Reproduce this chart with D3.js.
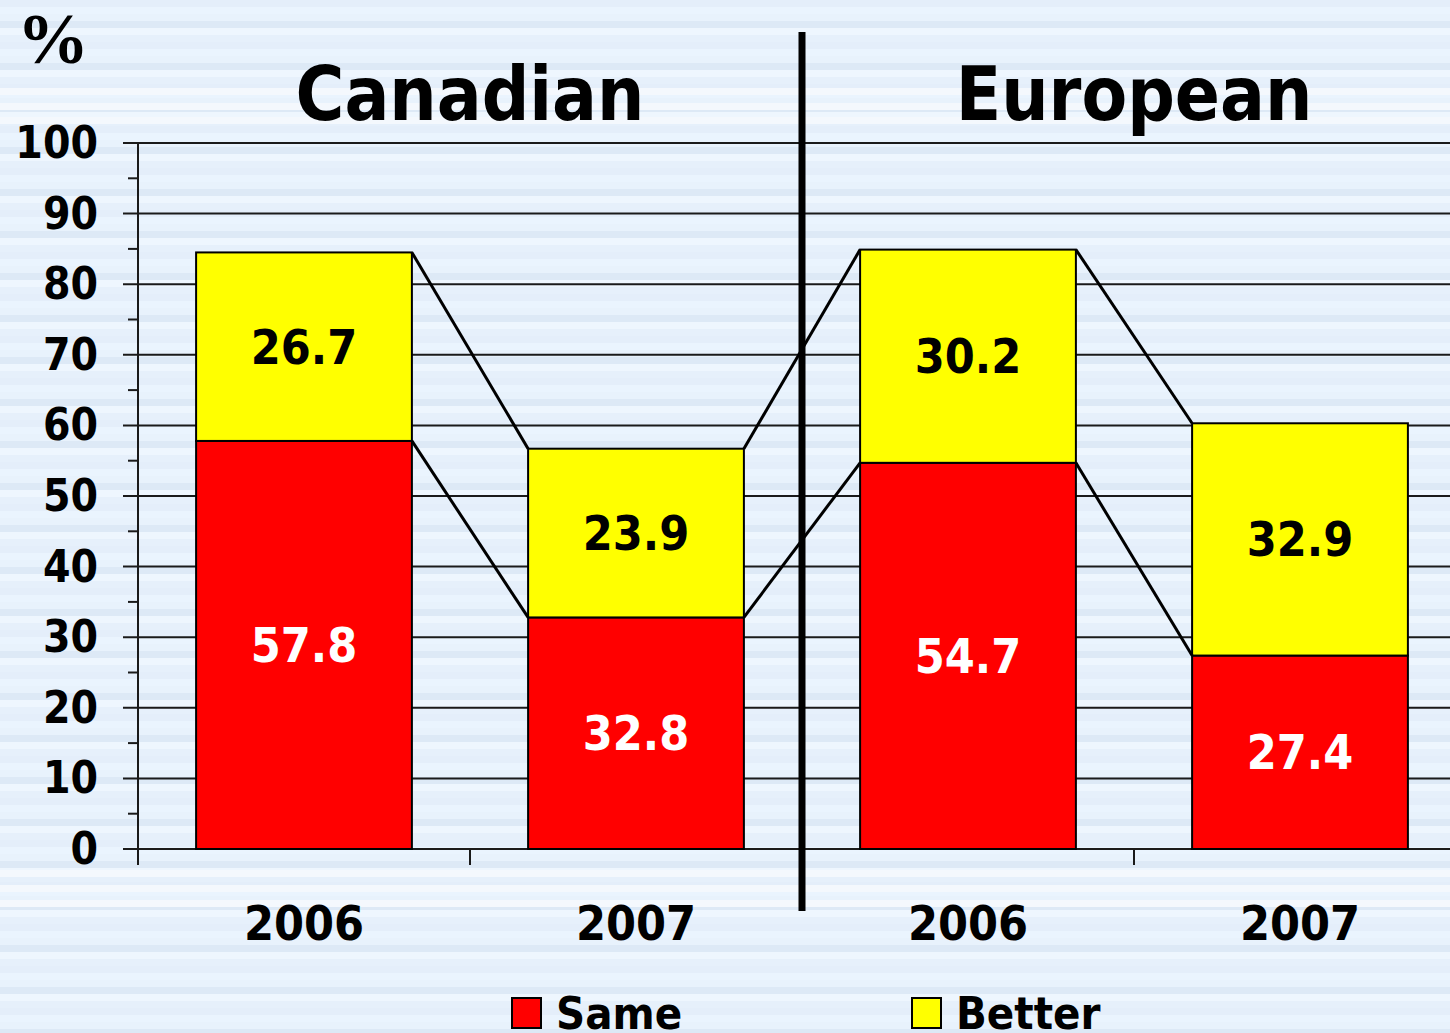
<!DOCTYPE html>
<html>
<head>
<meta charset="utf-8">
<script src="https://cdn.jsdelivr.net/npm/d3@7"></script>
<style>
  body { margin: 0; background: #e8f2fc; }
  svg { display: block; }
  text { font-family: 'DejaVu Sans Condensed', 'DejaVu Sans', sans-serif; font-weight: bold; }
</style>
</head>
<body>
<svg width="1450" height="1033"></svg>
<script>
const width = 1450,
  height = 1033;

// chart data
const groups = ['Canadian', 'European'];
const categories = ['Canadian 2006', 'Canadian 2007', 'European 2006', 'European 2007'];
const years = ['2006', '2007', '2006', '2007'];
const same = [57.8, 32.8, 54.7, 27.4];
const better = [26.7, 23.9, 30.2, 32.9];
const yTicks = [0, 10, 20, 30, 40, 50, 60, 70, 80, 90, 100];
const legendItems = ['Same', 'Better'];

const colors = { Same: '#ff0000', Better: '#ffff00' };
const svg = d3.select('svg');

// striped background
const stripeColors = ['#e4eefa', '#eaf4fe', '#e8f2fc', '#dde9f6', '#eef6fe', '#e6f0fb'];
const defs = svg.append('defs');
const pat = defs
  .append('pattern')
  .attr('id', 'stripes')
  .attr('patternUnits', 'userSpaceOnUse')
  .attr('width', 10)
  .attr('height', stripeColors.length * 7);
pat
  .selectAll('rect')
  .data(stripeColors)
  .join('rect')
  .attr('x', 0)
  .attr('y', (d, i) => i * 7)
  .attr('width', 10)
  .attr('height', 7)
  .attr('fill', (d) => d);
svg.append('rect').attr('width', width).attr('height', height).attr('fill', 'url(#stripes)');

// a few lighter bands above and below the plot
const lightBands = [88, 103, 117, 870, 885, 900];
svg
  .append('g')
  .selectAll('rect')
  .data(lightBands)
  .join('rect')
  .attr('x', 0)
  .attr('y', (d) => d)
  .attr('width', width)
  .attr('height', 7)
  .attr('fill', '#f4f8fd');

const x = d3.scaleBand().domain(categories).range([138, 1466]).paddingInner(0.35).paddingOuter(0.175);
const y = d3.scaleLinear().domain([0, 100]).range([849, 143]);
const gap = (x.step() - x.bandwidth()) / 2;

// gridlines
svg
  .append('g')
  .selectAll('line')
  .data(yTicks)
  .join('line')
  .attr('x1', 123)
  .attr('x2', width)
  .attr('y1', (d) => y(d))
  .attr('y2', (d) => y(d))
  .attr('stroke', '#1a1a1a')
  .attr('stroke-width', 2);

// minor ticks
svg
  .append('g')
  .selectAll('line')
  .data(d3.range(5, 100, 10))
  .join('line')
  .attr('x1', 128)
  .attr('x2', 138)
  .attr('y1', (d) => y(d))
  .attr('y2', (d) => y(d))
  .attr('stroke', '#1a1a1a')
  .attr('stroke-width', 2);

// y axis line
svg
  .append('line')
  .attr('x1', 138)
  .attr('x2', 138)
  .attr('y1', y(100))
  .attr('y2', 865)
  .attr('stroke', '#1a1a1a')
  .attr('stroke-width', 2);

// y tick labels
svg
  .append('g')
  .selectAll('text')
  .data(yTicks)
  .join('text')
  .attr('x', 98)
  .attr('y', (d) => y(d) + 15)
  .attr('text-anchor', 'end')
  .attr('font-size', 44)
  .text((d) => d);

// category boundary ticks
svg
  .append('g')
  .selectAll('line')
  .data(categories.slice(1).filter((d, i) => i !== 1))
  .join('line')
  .attr('x1', (d) => x(d) - gap)
  .attr('x2', (d) => x(d) - gap)
  .attr('y1', y(0))
  .attr('y2', 865)
  .attr('stroke', '#1a1a1a')
  .attr('stroke-width', 2);

// stacked bars
const rows = categories.map((c, i) => ({ c, same: same[i], better: better[i] }));
const bars = svg.append('g');
bars
  .selectAll('.same')
  .data(rows)
  .join('rect')
  .attr('x', (d) => x(d.c))
  .attr('width', x.bandwidth())
  .attr('y', (d) => y(d.same))
  .attr('height', (d) => y(0) - y(d.same))
  .attr('fill', colors.Same)
  .attr('stroke', '#000')
  .attr('stroke-width', 2);
bars
  .selectAll('.better')
  .data(rows)
  .join('rect')
  .attr('x', (d) => x(d.c))
  .attr('width', x.bandwidth())
  .attr('y', (d) => y(d.same + d.better))
  .attr('height', (d) => y(d.same) - y(d.same + d.better))
  .attr('fill', colors.Better)
  .attr('stroke', '#000')
  .attr('stroke-width', 2);

// series connector lines
const pairs = d3.pairs(rows);
const connectors = svg.append('g').attr('stroke', '#000').attr('stroke-width', 3);
[(d) => d.same, (d) => d.same + d.better].forEach((val) => {
  connectors
    .append('g')
    .selectAll('line')
    .data(pairs)
    .join('line')
    .attr('x1', ([a]) => x(a.c) + x.bandwidth())
    .attr('y1', ([a]) => y(val(a)))
    .attr('x2', ([, b]) => x(b.c))
    .attr('y2', ([, b]) => y(val(b)));
});

// value labels
svg
  .append('g')
  .selectAll('text')
  .data(rows)
  .join('text')
  .attr('x', (d) => x(d.c) + x.bandwidth() / 2)
  .attr('y', (d) => y(d.same / 2) + 17)
  .attr('text-anchor', 'middle')
  .attr('font-size', 48)
  .attr('fill', '#fff')
  .text((d) => d.same);
svg
  .append('g')
  .selectAll('text')
  .data(rows)
  .join('text')
  .attr('x', (d) => x(d.c) + x.bandwidth() / 2)
  .attr('y', (d) => y(d.same + d.better / 2) + 17)
  .attr('text-anchor', 'middle')
  .attr('font-size', 48)
  .attr('fill', '#000')
  .text((d) => d.better);

// year labels
svg
  .append('g')
  .selectAll('text')
  .data(categories)
  .join('text')
  .attr('x', (d) => x(d) + x.bandwidth() / 2)
  .attr('y', 940)
  .attr('text-anchor', 'middle')
  .attr('font-size', 48)
  .text((d, i) => years[i]);

// separator between groups
const sepX = x(categories[2]) - gap;
svg
  .append('line')
  .attr('x1', sepX)
  .attr('x2', sepX)
  .attr('y1', 32)
  .attr('y2', 911)
  .attr('stroke', '#000')
  .attr('stroke-width', 7);

// group titles
svg
  .append('g')
  .selectAll('text')
  .data(groups)
  .join('text')
  .attr('x', (d, i) => (x(categories[i * 2]) + x(categories[i * 2 + 1]) + x.bandwidth()) / 2)
  .attr('y', 120)
  .attr('text-anchor', 'middle')
  .attr('font-size', 74)
  .text((d) => d);

// unit label
svg
  .append('text')
  .attr('x', 17)
  .attr('y', 63)
  .attr('font-size', 72)
  .style('font-family', "'Liberation Serif', serif")
  .style('font-weight', 900)
  .text('%');

// legend
const legend = svg
  .append('g')
  .selectAll('g')
  .data(legendItems)
  .join('g')
  .attr('transform', (d, i) => `translate(${512 + i * 400},998)`);
legend
  .append('rect')
  .attr('width', 29)
  .attr('height', 30)
  .attr('fill', (d) => colors[d])
  .attr('stroke', '#000')
  .attr('stroke-width', 2);
legend
  .append('text')
  .attr('x', 44)
  .attr('y', 31)
  .attr('font-size', 45)
  .text((d) => d);
</script>
</body>
</html>
